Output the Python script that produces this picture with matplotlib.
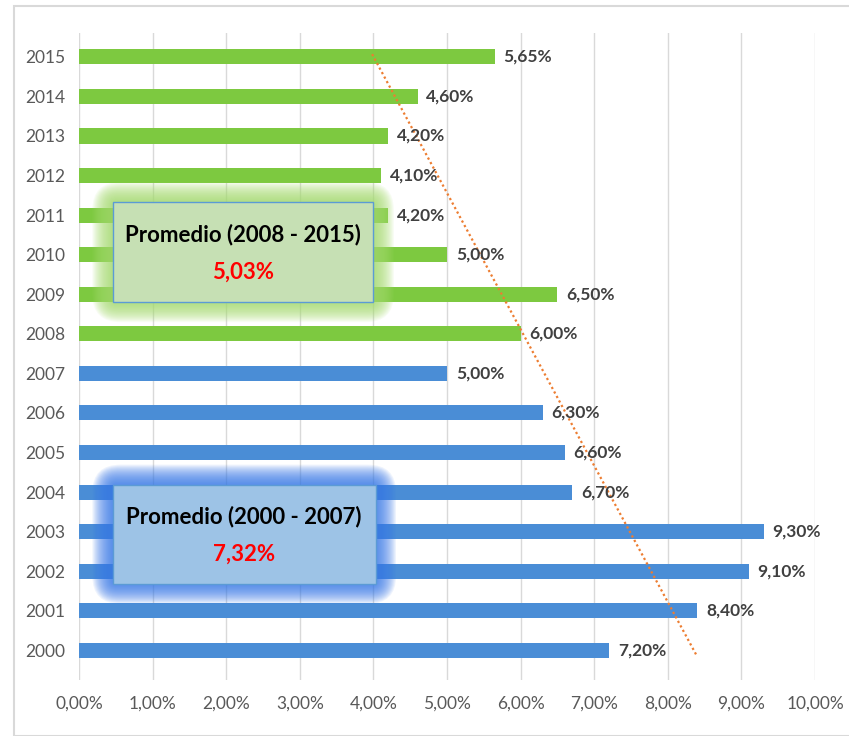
import numpy as np
import matplotlib.pyplot as plt
from matplotlib.patches import Rectangle, FancyBboxPatch

# datos
anios = [str(a) for a in range(2000, 2016)]
valores = [7.20, 8.40, 9.10, 9.30, 6.70, 6.60, 6.30, 5.00,
           6.00, 6.50, 5.00, 4.20, 4.10, 4.20, 4.60, 5.65]
etiquetas = ['7,20%', '8,40%', '9,10%', '9,30%', '6,70%', '6,60%', '6,30%', '5,00%',
             '6,00%', '6,50%', '5,00%', '4,20%', '4,10%', '4,20%', '4,60%', '5,65%']
xticks = [0, 1, 2, 3, 4, 5, 6, 7, 8, 9, 10]
xtick_lbl = ['0,00%', '1,00%', '2,00%', '3,00%', '4,00%', '5,00%',
             '6,00%', '7,00%', '8,00%', '9,00%', '10,00%']
prom_1 = ('Promedio (2000 - 2007)', '7,32%')
prom_2 = ('Promedio (2008 - 2015)', '5,03%')

verde = '#7DC940'
azul = '#4A8DD6'
fuente = ['Lato', 'DejaVu Sans']

fig = plt.figure(figsize=(8.49, 7.36), dpi=100)
ax = fig.add_axes([0.093, 0.076, 0.867, 0.879])

# marco exterior
fig.patches.append(Rectangle((14/849, 0.0), 1.0, 1 - 6/736, transform=fig.transFigure,
                             fill=False, edgecolor='#D9D9D9', lw=1.5))

y = np.arange(len(anios))
colores = [azul if int(a) < 2008 else verde for a in anios]
ax.barh(y, valores, height=0.38, color=colores, zorder=2)

for i in range(len(anios)):
    ax.text(valores[i] + 0.12, y[i], etiquetas[i], va='center', ha='left',
            fontsize=12.5, color='#404040', family=fuente, fontweight='bold', zorder=9)

# linea de tendencia (lineal)
m, b = np.polyfit(y, valores, 1)
yt = np.array([-0.1, 15.1])
ax.plot(m*yt + b, yt, color='#ED7D31', lw=1.6, ls=(0, (1, 1.3)), zorder=4)

ax.set_xlim(0, 10)
ax.set_ylim(-0.75, 15.6)
ax.set_xticks(xticks)
ax.set_xticklabels(xtick_lbl)
ax.set_yticks(y)
ax.set_yticklabels(anios)
ax.tick_params(length=0, labelsize=12.5, colors='#595959', pad=10)
ax.tick_params(axis='x', pad=11)
for lbl in ax.get_xticklabels() + ax.get_yticklabels():
    lbl.set_family(fuente)
ax.grid(axis='x', color='#D9D9D9', lw=1, zorder=0)
for s in ax.spines.values():
    s.set_visible(False)

asp = 40.5 / 73.6   # px por unidad y / px por unidad x


def caja(x0, x1, y0, y1, cara, brillo, borde, textos):
    # halo difuso alrededor de la caja
    n = 18
    for k in range(n, 0, -1):
        dy = k * 0.028
        dx = dy * asp
        ax.add_patch(FancyBboxPatch((x0 - dx, y0 - dy), x1 - x0 + 2*dx, y1 - y0 + 2*dy,
                                    boxstyle='round,pad=0,rounding_size=%.3f' % (dx*1.2 + 0.05),
                                    mutation_aspect=1/asp,
                                    facecolor=brillo, edgecolor='none', alpha=0.085, zorder=6))
    ax.add_patch(Rectangle((x0, y0), x1 - x0, y1 - y0, facecolor=cara,
                           edgecolor=borde, lw=1, zorder=7))
    xc = (x0 + x1) / 2
    ax.text(xc, y0 + (y1 - y0)*0.68, textos[0], ha='center', va='center', fontsize=16,
            fontweight='bold', color='black', family=fuente, zorder=8)
    ax.text(xc, y0 + (y1 - y0)*0.3, textos[1], ha='center', va='center', fontsize=16,
            fontweight='bold', color='#FF0000', family=fuente, zorder=8)


caja(0.46, 4.0, 8.8, 11.33, '#C6E0B4', '#A6DD70', '#5B9BD5', prom_2)
caja(0.46, 4.03, 1.68, 4.19, '#9DC3E6', '#3A7BEA', '#5B9BD5', prom_1)

fig.savefig('out.png', dpi=100)
